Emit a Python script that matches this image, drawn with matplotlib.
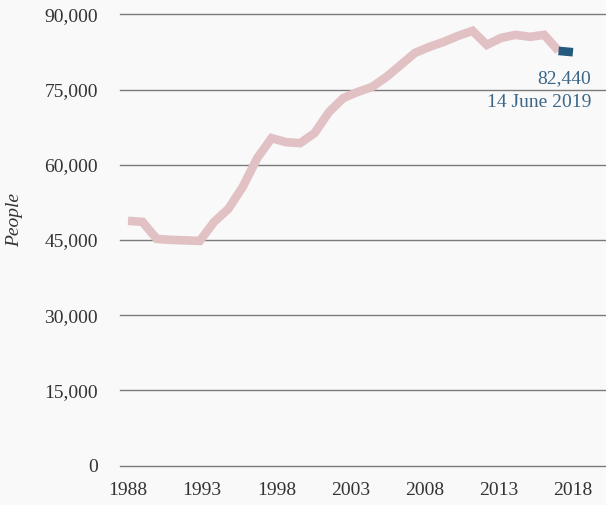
import matplotlib
matplotlib.use("Agg")
import matplotlib.pyplot as plt

# positions along the time axis (32 points, 1988 .. latest)
x_pos = [1988.00, 1988.97, 1989.94, 1990.90, 1991.87, 1992.84, 1993.81, 1994.77,
         1995.74, 1996.71, 1997.68, 1998.65, 1999.61, 2000.58, 2001.55, 2002.52,
         2003.48, 2004.45, 2005.42, 2006.39, 2007.35, 2008.32, 2009.29, 2010.26,
         2011.23, 2012.19, 2013.16, 2014.13, 2015.10, 2016.06, 2017.03, 2018.00]
people = [48800, 48600, 45200, 45000, 44900, 44800, 48600, 51200,
          55600, 61300, 65300, 64500, 64300, 66300, 70500, 73300,
          74500, 75500, 77500, 79900, 82300, 83500, 84500, 85700,
          86700, 83900, 85300, 85900, 85500, 85900, 82700, 82440]

x_ticks = [1988, 1993, 1998, 2003, 2008, 2013, 2018]
y_ticks = [0, 15000, 30000, 45000, 60000, 75000, 90000]
latest_label = "82,440"
latest_date = "14 June 2019"

pink = "#e2c1c4"
blue = "#235a7e"
bg = "#f9f9f9"

plt.rcParams['font.family'] = ['Liberation Serif', 'DejaVu Serif']

fig = plt.figure(figsize=(6.06, 5.05), dpi=100, facecolor=bg)
ax = fig.add_axes([120 / 606, 39.5 / 505, 486 / 606, 451.2 / 505], facecolor=bg)

ax.plot(x_pos[:-1], people[:-1], color=pink, lw=6.2,
        solid_capstyle='butt', solid_joinstyle='miter', clip_on=False, zorder=3)
ax.plot(x_pos[-2:], people[-2:], color=blue, lw=6.2,
        solid_capstyle='butt', solid_joinstyle='miter', clip_on=False, zorder=4)

ax.text(2019.22, 77100, latest_label, color="#3b6688", fontsize=14,
        ha='right', va='center')
ax.text(2019.22, 72500, latest_date, color="#3b6688", fontsize=14,
        ha='right', va='center')

ax.set_xlim(1987.46, 2020.23)
ax.set_ylim(0, 90000)
ax.set_xticks(x_ticks)
ax.set_yticks(y_ticks)
ax.set_yticklabels([f"{v:,}" for v in y_ticks])
ax.grid(axis='y', color='#7a7a7a', lw=1)
for gl in ax.get_ygridlines():
    gl.set_clip_on(False)
ax.set_axisbelow(True)
for s in ax.spines.values():
    s.set_visible(False)
ax.tick_params(axis='both', length=0, labelsize=14, labelcolor='#333333')
ax.tick_params(axis='y', pad=16)
ax.tick_params(axis='x', pad=12)

fig.text(15 / 606, 1 - 220 / 505, "People", rotation=90, style='italic',
         fontsize=14, color='#333333', ha='center', va='center')

fig.savefig("out.png", dpi=100, facecolor=bg)
